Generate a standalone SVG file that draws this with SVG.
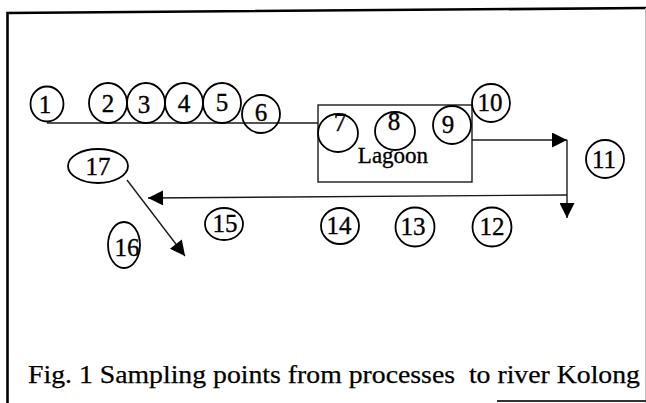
<svg xmlns="http://www.w3.org/2000/svg" width="646" height="403" viewBox="0 0 646 403">
  <defs>
    <marker id="arrow" viewBox="0 0 10 10" refX="10" refY="5" markerWidth="18" markerHeight="15" markerUnits="userSpaceOnUse" orient="auto">
      <path d="M0,0 L10,5 L0,10 Z" fill="#000"/>
    </marker>
  </defs>
  <style>
    .pt { fill: none; stroke: #000; stroke-width: 1.8; }
    .num { font-family: "Liberation Serif", "Times New Roman", Times, "DejaVu Serif", serif; font-size: 25px; fill: #000; stroke: #000; stroke-width: 0.35; text-anchor: middle; }
    .line { fill: none; stroke: #1a1a1a; stroke-width: 1.4; }
    .frame { fill: none; stroke: #000; stroke-width: 2.6; }
    .cap { font-family: "Liberation Serif", "Times New Roman", Times, "DejaVu Serif", serif; font-size: 26px; fill: #000; stroke: #000; stroke-width: 0.25; }
  </style>
  <rect width="646" height="403" fill="#fff"/>

  <!-- outer frame -->
  <g id="frame">
    <path class="frame" d="M7.5,403 L7.5,13 L646,8"/>
    <line x1="645.5" y1="8" x2="645.5" y2="403" stroke="#bbb" stroke-width="1"/>
    <line x1="497" y1="401" x2="646" y2="401" stroke="#333" stroke-width="2"/>
  </g>

  <!-- flow lines -->
  <g id="connectors">
    <line class="line" x1="47" y1="123" x2="318" y2="123"/>
    <line class="line" x1="472" y1="140" x2="567" y2="140" marker-end="url(#arrow)"/>
    <line class="line" x1="567" y1="140" x2="567" y2="218" marker-end="url(#arrow)" stroke-width="1.7"/>
    <line class="line" x1="567" y1="195" x2="148" y2="198" marker-end="url(#arrow)"/>
    <line class="line" x1="127" y1="180" x2="185" y2="256" marker-end="url(#arrow)" stroke-width="1.9"/>
  </g>

  <!-- lagoon basin -->
  <g id="lagoon">
    <rect class="line" x="318" y="105" width="154" height="77"/>
    <text class="num" x="393" y="163" style="font-size:23px">Lagoon</text>
  </g>

  <g id="p1"><ellipse class="pt" cx="47" cy="104" rx="16.5" ry="17.5"/><text class="num" x="45" y="113">1</text></g>
  <g id="p2"><ellipse class="pt" cx="108" cy="103" rx="19" ry="20"/><text class="num" x="108" y="112">2</text></g>
  <g id="p3"><ellipse class="pt" cx="146" cy="103" rx="19" ry="20"/><text class="num" x="144" y="113">3</text></g>
  <g id="p4"><ellipse class="pt" cx="184" cy="103" rx="19" ry="20"/><text class="num" x="184" y="112">4</text></g>
  <g id="p5"><ellipse class="pt" cx="222" cy="103" rx="19" ry="20"/><text class="num" x="222" y="111">5</text></g>
  <g id="p6"><ellipse class="pt" cx="261" cy="114" rx="19" ry="19"/><text class="num" x="261" y="121">6</text></g>
  <g id="p7"><ellipse class="pt" cx="338" cy="133" rx="20" ry="19"/><text class="num" x="340" y="131">7</text></g>
  <g id="p8"><ellipse class="pt" cx="395" cy="131" rx="20" ry="19"/><text class="num" x="394" y="130">8</text></g>
  <g id="p9"><ellipse class="pt" cx="452" cy="125" rx="19" ry="19"/><text class="num" x="448" y="133">9</text></g>
  <g id="p10"><ellipse class="pt" cx="491" cy="103" rx="19" ry="19"/><text class="num" x="490" y="111">10</text></g>
  <g id="p11"><ellipse class="pt" cx="605" cy="159" rx="19" ry="19"/><text class="num" x="604" y="168">11</text></g>
  <g id="p12"><ellipse class="pt" cx="492" cy="227" rx="19.5" ry="19.5"/><text class="num" x="492" y="235">12</text></g>
  <g id="p13"><ellipse class="pt" cx="415" cy="227" rx="19.5" ry="19.5"/><text class="num" x="413" y="235">13</text></g>
  <g id="p14"><ellipse class="pt" cx="340" cy="226" rx="19" ry="18"/><text class="num" x="339" y="234">14</text></g>
  <g id="p15"><ellipse class="pt" cx="224" cy="224" rx="19" ry="16"/><text class="num" x="225" y="232">15</text></g>
  <g id="p16"><ellipse class="pt" cx="124" cy="245" rx="16" ry="23"/><text class="num" x="127" y="256">16</text></g>
  <g id="p17"><ellipse class="pt" cx="98" cy="166" rx="30" ry="17"/><text class="num" x="98" y="175">17</text></g>

  <g id="caption">
    <text class="cap" x="28" y="383" xml:space="preserve" textLength="612" lengthAdjust="spacingAndGlyphs">Fig. 1 Sampling points from processes  to river Kolong</text>
  </g>
</svg>
